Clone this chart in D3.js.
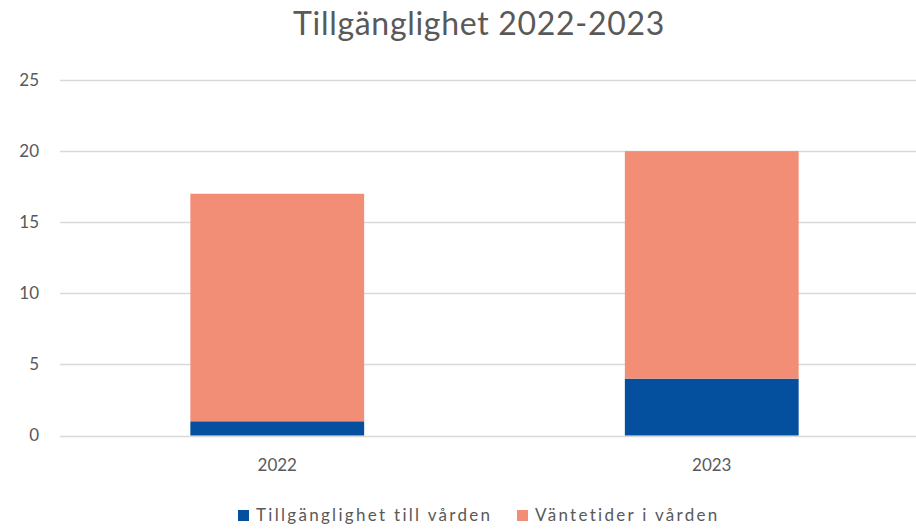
<!DOCTYPE html>
<html>
<head>
<meta charset="utf-8">
<script src="https://cdn.jsdelivr.net/npm/d3@7"></script>
<style>
  body { margin: 0; background: #fff; }
  svg { display: block; font-family: Lato, 'Open Sans', sans-serif; }
</style>
</head>
<body>
<svg class="chart"></svg>
<script>
const years = ['2022', '2023']
const tillganglighet = [1, 4]
const vantetider = [16, 16]
const seriesNames = ['Tillgänglighet till vården', 'Väntetider i vården']
const seriesColors = ['#044F9E', '#F28E76']
const yTicks = [0, 5, 10, 15, 20, 25]

const width = 916
const height = 529
const margin = { top: 80, left: 60, bottom: 94 }

const rows = years.map((year, i) => ({ year, a: tillganglighet[i], b: vantetider[i] }))
const stacked = d3.stack().keys(['a', 'b'])(rows)

const x = d3.scaleBand()
  .domain(years)
  .range([margin.left, 929])
  .paddingInner(0.6)
  .paddingOuter(0.3)

const y = d3.scaleLinear()
  .domain([0, 25])
  .range([height - margin.bottom + 0.5, margin.top])

const chart = d3.select('.chart')
  .attr('width', width)
  .attr('height', height)

chart.append('text')
  .attr('x', 479)
  .attr('y', 35)
  .attr('text-anchor', 'middle')
  .attr('font-size', 32)
  .attr('letter-spacing', 0.7)
  .attr('fill', '#595959')
  .text('Tillgänglighet 2022-2023')

// grid
chart.append('g')
  .selectAll('line')
  .data(yTicks)
  .enter()
  .append('line')
  .attr('x1', margin.left)
  .attr('x2', width)
  .attr('y1', d => Math.round(y(d)) + 0.5)
  .attr('y2', d => Math.round(y(d)) + 0.5)
  .attr('stroke', '#d9d9d9')
  .attr('stroke-width', 1.3)

chart.append('g')
  .selectAll('text')
  .data(yTicks)
  .enter()
  .append('text')
  .attr('x', 39)
  .attr('y', d => y(d))
  .attr('dy', '0.35em')
  .attr('text-anchor', 'end')
  .attr('font-size', 17)
  .attr('fill', '#595959')
  .text(d => d)

chart.append('g')
  .selectAll('text')
  .data(years)
  .enter()
  .append('text')
  .attr('x', d => x(d) + x.bandwidth() / 2)
  .attr('y', 471)
  .attr('text-anchor', 'middle')
  .attr('font-size', 17)
  .attr('fill', '#595959')
  .text(d => d)

// bars
chart.append('g')
  .selectAll('g')
  .data(stacked)
  .enter()
  .append('g')
  .attr('fill', (d, i) => seriesColors[i])
  .selectAll('rect')
  .data(d => d)
  .enter()
  .append('rect')
  .attr('x', d => x(d.data.year))
  .attr('y', d => y(d[1]))
  .attr('width', x.bandwidth())
  .attr('height', d => y(d[0]) - y(d[1]))

// legend
const legendX = [238, 517]
const legend = chart.append('g')
  .selectAll('g')
  .data(seriesNames)
  .enter()
  .append('g')
  .attr('transform', (d, i) => `translate(${legendX[i]},510)`)
legend.append('rect')
  .attr('width', 11)
  .attr('height', 11)
  .attr('fill', (d, i) => seriesColors[i])
legend.append('text')
  .attr('x', 18)
  .attr('y', 11)
  .attr('font-size', 17)
  .attr('fill', '#595959')
  .attr('letter-spacing', 2.3)
  .text(d => d)
</script>
</body>
</html>
